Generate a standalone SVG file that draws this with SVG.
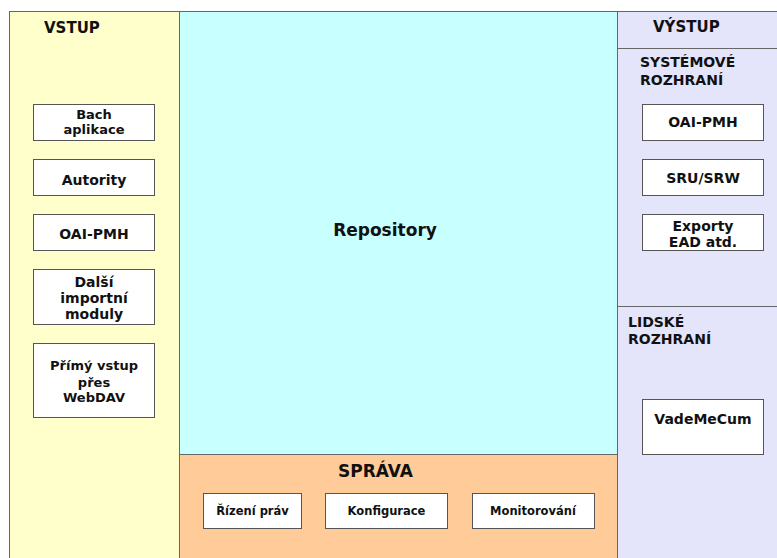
<svg xmlns="http://www.w3.org/2000/svg" width="777" height="558" viewBox="0 0 777 558">
<style>
text{font-family:"DejaVu Sans","Liberation Sans",sans-serif;font-weight:bold;fill:#111}
.box{fill:#fff;stroke:#555;stroke-width:1}
.c{text-anchor:middle}
.h{font-size:15px}
.b{font-size:14px}
.s{font-size:11.5px}
.pan{stroke:#666;stroke-width:1}
</style>
<rect width="777" height="558" fill="#fff"/>
<g id="vstup">
<rect class="pan" x="9.5" y="11.5" width="170" height="550" fill="#FFFFCC"/>
<text class="h" x="44" y="33">VSTUP</text>
</g>
<g id="repository">
<rect class="pan" x="179.5" y="11.5" width="438" height="443" fill="#C8FFFF"/>
<text class="c" x="385" y="236" font-size="17">Repository</text>
</g>
<g id="sprava">
<rect class="pan" x="179.5" y="454.5" width="438" height="110" fill="#FFCC99"/>
<text class="c" x="375.5" y="477" font-size="17">SPRÁVA</text>
</g>
<g id="vystup">
<rect class="pan" x="617.5" y="11.5" width="165" height="550" fill="#E4E4FB"/>
<line class="pan" x1="617.5" y1="48.5" x2="777" y2="48.5"/>
<line class="pan" x1="617.5" y1="306.5" x2="777" y2="306.5"/>
<text class="h" x="653" y="32">VÝSTUP</text>
<text class="b" x="640" y="67">SYSTÉMOVÉ</text>
<text class="b" x="640" y="85">ROZHRANÍ</text>
<text class="b" x="628" y="327">LIDSKÉ</text>
<text class="b" x="628" y="344">ROZHRANÍ</text>
</g>
<g id="bach"><rect class="box" x="33.5" y="104.5" width="121" height="36"/><text class="c" font-size="13" x="94" y="118.5">Bach</text><text class="c" font-size="13" x="94" y="133.5">aplikace</text></g>
<g id="autority"><rect class="box" x="33.5" y="159.5" width="121" height="36"/><text class="b c" x="94" y="185">Autority</text></g>
<g id="oai-in"><rect class="box" x="33.5" y="214.5" width="121" height="36"/><text class="b c" x="94" y="239">OAI-PMH</text></g>
<g id="dalsi"><rect class="box" x="33.5" y="269.5" width="121" height="55"/><text class="b c" x="94" y="287">Další</text><text class="b c" x="94" y="303">importní</text><text class="b c" x="94" y="319">moduly</text></g>
<g id="primy"><rect class="box" x="33.5" y="343.5" width="121" height="74"/><text class="c" font-size="13" x="94" y="370">Přímý vstup</text><text class="c" font-size="13" x="94" y="387">přes</text><text class="c" font-size="13" x="94" y="402">WebDAV</text></g>
<g id="oai-out"><rect class="box" x="642.5" y="104.5" width="121" height="36"/><text class="b c" x="703" y="127">OAI-PMH</text></g>
<g id="sru"><rect class="box" x="642.5" y="159.5" width="121" height="36"/><text class="b c" x="703" y="183">SRU/SRW</text></g>
<g id="exporty"><rect class="box" x="642.5" y="214.5" width="121" height="36"/><text class="b c" x="703" y="231">Exporty</text><text class="b c" x="703" y="247">EAD atd.</text></g>
<g id="vademecum"><rect class="box" x="642.5" y="399.5" width="121" height="55"/><text class="b c" x="703" y="424">VadeMeCum</text></g>
<g id="rizeni"><rect class="box" x="203.5" y="493.5" width="98" height="35"/><text class="s c" x="252.5" y="515">Řízení práv</text></g>
<g id="konfigurace"><rect class="box" x="325.5" y="493.5" width="122" height="35"/><text class="s c" x="386.5" y="515">Konfigurace</text></g>
<g id="monitorovani"><rect class="box" x="472.5" y="493.5" width="122" height="35"/><text class="s c" x="533" y="515" font-size="10.5">Monitorování</text></g>
<g id="connectors"></g>
</svg>
